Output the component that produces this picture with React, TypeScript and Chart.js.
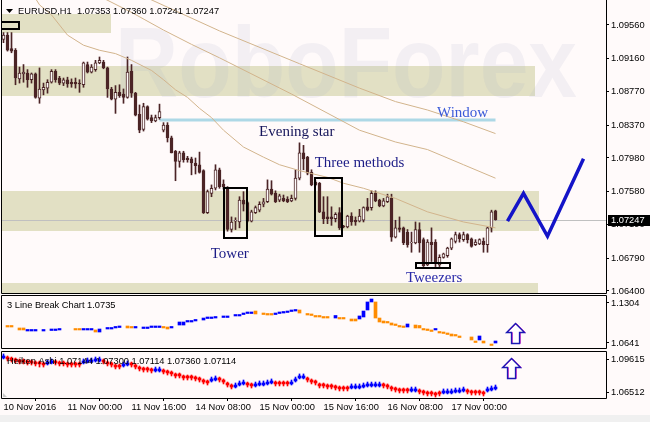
import React, { useEffect, useRef } from 'react';
import { Chart, registerables } from 'chart.js';
Chart.register(...registerables);

const BG = '#fffafa';
const CANDLE = '#4b2426';
const ZONE_COLOR = '#e2e0c4';
const SANS = '"Liberation Sans", Arial, sans-serif';
const SERIF = '"Liberation Serif", "Times New Roman", serif';
Chart.defaults.font.family = SANS;

const X_MIN = -0.375;
const X_MAX = 150.625;

// ---- time axis ----
const xTickIdx = [0, 16, 32, 48, 64, 80, 96, 112];
const xTickLabels = ['10 Nov 2016', '11 Nov 00:00', '11 Nov 16:00', '14 Nov 08:00', '15 Nov 00:00', '15 Nov 16:00', '16 Nov 08:00', '17 Nov 00:00'];

// ---- price axis ----
const priceTicks = [1.0956, 1.0916, 1.0877, 1.0837, 1.0798, 1.0758, 1.0719, 1.0679, 1.064];
const lbTicks = [1.1304, 1.0641];
const haTicks = [1.09615, 1.06512];
const lastPrice = 1.07247;
const headerText = 'EURUSD,H1  1.07353 1.07360 1.07241 1.07247';
const lbText = '3 Line Break Chart 1.0735';
const haText = 'Heiken Ashi 1.07144 1.07300 1.07114 1.07360 1.07114';

// ---- EURUSD H1 candles ----
const openP = [1.0939, 1.0944, 1.0928, 1.0926, 1.0892, 1.0898, 1.0899, 1.0891, 1.0898, 1.0869, 1.0879, 1.0881, 1.0888, 1.0901, 1.0893, 1.0887, 1.0891, 1.0888, 1.0888, 1.0887, 1.0885, 1.0909, 1.09, 1.0903, 1.0911, 1.0912, 1.0905, 1.088, 1.0868, 1.0876, 1.0874, 1.087, 1.0901, 1.0875, 1.085, 1.0832, 1.0859, 1.0846, 1.0842, 1.0846, 1.0831, 1.0837, 1.0822, 1.0806, 1.0794, 1.0804, 1.0798, 1.0797, 1.0792, 1.079, 1.0783, 1.0733, 1.0756, 1.0762, 1.0784, 1.0767, 1.0762, 1.0713, 1.0723, 1.0722, 1.0748, 1.0745, 1.0723, 1.0733, 1.0736, 1.0743, 1.0746, 1.0761, 1.0756, 1.0748, 1.075, 1.0749, 1.0747, 1.075, 1.0774, 1.0804, 1.0799, 1.0781, 1.0769, 1.0768, 1.0734, 1.0728, 1.0728, 1.0726, 1.0733, 1.0717, 1.0716, 1.0729, 1.0724, 1.0723, 1.0724, 1.074, 1.0739, 1.0756, 1.0748, 1.0741, 1.0746, 1.075, 1.0704, 1.0715, 1.0715, 1.071, 1.0697, 1.0697, 1.0713, 1.0701, 1.0671, 1.0698, 1.0698, 1.0671, 1.068, 1.0682, 1.0691, 1.0699, 1.0707, 1.0701, 1.0707, 1.0702, 1.0695, 1.0696, 1.0699, 1.0695, 1.0715, 1.07353];
const highP = [1.0947, 1.0947, 1.0947, 1.0928, 1.0906, 1.0909, 1.0903, 1.0899, 1.0899, 1.0905, 1.0887, 1.0891, 1.0903, 1.0903, 1.0895, 1.0893, 1.0894, 1.0892, 1.0893, 1.0891, 1.0912, 1.0912, 1.0909, 1.0914, 1.0918, 1.0914, 1.0906, 1.0882, 1.0884, 1.0885, 1.088, 1.0918, 1.0909, 1.0876, 1.0861, 1.0863, 1.086, 1.0849, 1.0849, 1.0862, 1.084, 1.084, 1.0824, 1.0807, 1.0806, 1.0806, 1.08, 1.0799, 1.0798, 1.0805, 1.0784, 1.076, 1.0766, 1.079, 1.0786, 1.0772, 1.0764, 1.0728, 1.0727, 1.0752, 1.0758, 1.0746, 1.0736, 1.0741, 1.0746, 1.075, 1.0772, 1.0771, 1.0759, 1.0755, 1.0754, 1.0752, 1.0754, 1.0784, 1.0816, 1.0813, 1.08, 1.0784, 1.0771, 1.0769, 1.0752, 1.0752, 1.074, 1.0733, 1.0739, 1.0718, 1.073, 1.0733, 1.0728, 1.0737, 1.074, 1.075, 1.0759, 1.0759, 1.0749, 1.075, 1.0755, 1.0755, 1.0724, 1.0728, 1.0716, 1.0713, 1.071, 1.0722, 1.0721, 1.0703, 1.0701, 1.0715, 1.0701, 1.0683, 1.0685, 1.0692, 1.0703, 1.071, 1.0709, 1.071, 1.0708, 1.0703, 1.0701, 1.0702, 1.0703, 1.0716, 1.0736, 1.0736];
const lowP = [1.0935, 1.0925, 1.0923, 1.0885, 1.0887, 1.0888, 1.0882, 1.0887, 1.0869, 1.0863, 1.0873, 1.0875, 1.0887, 1.0888, 1.0885, 1.0884, 1.0882, 1.0882, 1.0881, 1.0876, 1.0882, 1.0899, 1.0899, 1.0901, 1.091, 1.0904, 1.087, 1.0867, 1.0851, 1.087, 1.0863, 1.0869, 1.087, 1.0848, 1.0828, 1.083, 1.0843, 1.084, 1.0841, 1.0844, 1.0829, 1.0817, 1.0804, 1.0771, 1.0787, 1.0793, 1.0793, 1.0778, 1.0779, 1.078, 1.0732, 1.0732, 1.0752, 1.076, 1.0762, 1.0761, 1.0711, 1.071, 1.0713, 1.0715, 1.0735, 1.0722, 1.0722, 1.0732, 1.0734, 1.074, 1.0745, 1.0754, 1.0745, 1.0746, 1.0746, 1.0745, 1.0746, 1.0748, 1.0772, 1.0784, 1.0778, 1.0765, 1.0765, 1.0733, 1.072, 1.072, 1.0718, 1.0722, 1.0713, 1.0715, 1.0715, 1.0718, 1.0718, 1.0722, 1.0722, 1.0735, 1.0736, 1.0746, 1.074, 1.074, 1.0745, 1.0699, 1.0703, 1.071, 1.0695, 1.0692, 1.0686, 1.0696, 1.0686, 1.0669, 1.067, 1.0675, 1.0669, 1.0669, 1.0679, 1.068, 1.0689, 1.0697, 1.0698, 1.0699, 1.0697, 1.0692, 1.0694, 1.0695, 1.0686, 1.0686, 1.071, 1.07241];
const closeP = [1.0944, 1.0926, 1.0925, 1.0893, 1.0899, 1.09, 1.0891, 1.0898, 1.087, 1.088, 1.0882, 1.0888, 1.0901, 1.0891, 1.0887, 1.0891, 1.0886, 1.0886, 1.0886, 1.0886, 1.0911, 1.09, 1.0906, 1.0911, 1.0914, 1.0905, 1.088, 1.0868, 1.0876, 1.0872, 1.087, 1.09, 1.0875, 1.0849, 1.0831, 1.0859, 1.0844, 1.0842, 1.0846, 1.0853, 1.0837, 1.0822, 1.0804, 1.0794, 1.0804, 1.0796, 1.0796, 1.0792, 1.0789, 1.0781, 1.0733, 1.0758, 1.0762, 1.0784, 1.0764, 1.0764, 1.0713, 1.0722, 1.0724, 1.0748, 1.0743, 1.0723, 1.0734, 1.0739, 1.0743, 1.0746, 1.0761, 1.0755, 1.0746, 1.0753, 1.0747, 1.0746, 1.075, 1.0774, 1.0804, 1.0797, 1.078, 1.0766, 1.0766, 1.0734, 1.0726, 1.0726, 1.0726, 1.0731, 1.0715, 1.0716, 1.0729, 1.0722, 1.0722, 1.0729, 1.0739, 1.0736, 1.0756, 1.0747, 1.0741, 1.0747, 1.0752, 1.0704, 1.0715, 1.0713, 1.0697, 1.0695, 1.0698, 1.0713, 1.0697, 1.067, 1.0698, 1.0695, 1.0673, 1.068, 1.0684, 1.0691, 1.0702, 1.0707, 1.0702, 1.0707, 1.0701, 1.0693, 1.0698, 1.0701, 1.0695, 1.0715, 1.0734, 1.07247];

// ---- moving averages (read at sample bars) ----
const maFastX = [7, 9, 12, 16, 20, 24, 28, 32, 37, 40, 43, 46, 49, 52, 55, 60, 65, 69, 74, 81, 85, 90, 98, 106, 115, 123];
const maFastY = [1.0995, 1.098, 1.0968, 1.0944, 1.0932, 1.0926, 1.0922, 1.0914, 1.0902, 1.0891, 1.0879, 1.087, 1.0857, 1.0846, 1.0831, 1.0811, 1.0799, 1.079, 1.0783, 1.0775, 1.0768, 1.0762, 1.075, 1.0734, 1.0722, 1.0715];
const maMidX = [22, 32, 40, 47, 54, 72, 89, 98, 106, 115, 123];
const maMidY = [1.0995, 1.0971, 1.095, 1.0933, 1.0917, 1.0874, 1.0831, 1.0817, 1.0808, 1.079, 1.0774];
const maSlowX = [36, 54, 74, 89, 98, 106, 115, 123];
const maSlowY = [1.0988, 1.0949, 1.091, 1.0881, 1.0865, 1.0855, 1.0841, 1.0827];

// ---- window level & forecast ----
const windowX = [39, 123];
const windowLevel = 1.0843;
const forecastX = [126, 130, 136, 145];
const forecastY = [1.0723, 1.0756, 1.0705, 1.0797];

// ---- 3 Line Break ----
const lbX = [1, 2, 4, 5, 6, 7, 8, 10, 12, 13, 14, 18, 19, 20, 21, 22, 23, 24, 26, 27, 28, 29, 31, 32, 33, 35, 36, 37, 38, 39, 40, 41, 42, 44, 45, 46, 47, 48, 50, 51, 52, 53, 55, 56, 58, 59, 60, 61, 62, 63, 65, 66, 67, 68, 69, 70, 71, 72, 73, 74, 76, 77, 78, 79, 80, 81, 83, 84, 85, 87, 88, 89, 90, 91, 92, 93, 94, 95, 96, 97, 98, 99, 100, 101, 103, 104, 105, 106, 107, 108, 109, 110, 111, 112, 113, 114, 117, 118, 119, 120, 122, 123];
const lbHi = [1.0931, 1.0931, 1.089, 1.089, 1.0865, 1.0865, 1.0865, 1.0865, 1.0873, 1.0873, 1.0881, 1.0881, 1.0881, 1.0881, 1.0881, 1.0881, 1.0857, 1.0873, 1.0898, 1.0898, 1.0915, 1.0923, 1.0923, 1.0915, 1.0915, 1.0906, 1.0906, 1.0923, 1.0923, 1.0923, 1.0915, 1.0906, 1.0915, 1.0989, 1.0989, 1.1014, 1.1014, 1.1031, 1.1055, 1.1072, 1.1072, 1.108, 1.1089, 1.1089, 1.1113, 1.1113, 1.1138, 1.1155, 1.1155, 1.1171, 1.1138, 1.113, 1.113, 1.1138, 1.1155, 1.1163, 1.1171, 1.1188, 1.1196, 1.1188, 1.113, 1.1122, 1.1097, 1.1097, 1.108, 1.108, 1.1097, 1.1064, 1.1064, 1.1039, 1.1039, 1.1089, 1.1171, 1.1321, 1.137, 1.1321, 1.1055, 1.1006, 1.0998, 1.0973, 1.0956, 1.0931, 1.0923, 1.0956, 1.0939, 1.0931, 1.0881, 1.0873, 1.0857, 1.0881, 1.0832, 1.0823, 1.0807, 1.079, 1.0782, 1.0757, 1.0741, 1.0674, 1.0757, 1.0674, 1.0624, 1.0674];
const lbLo = [1.0906, 1.0906, 1.0857, 1.0857, 1.084, 1.084, 1.084, 1.084, 1.0848, 1.0848, 1.0857, 1.0857, 1.0857, 1.0857, 1.0857, 1.0857, 1.0823, 1.0823, 1.0873, 1.0873, 1.089, 1.0898, 1.089, 1.089, 1.089, 1.0881, 1.0881, 1.0898, 1.0898, 1.0898, 1.089, 1.0873, 1.089, 1.0939, 1.0939, 1.0989, 1.0989, 1.1006, 1.1022, 1.1047, 1.1047, 1.1055, 1.1064, 1.1064, 1.1089, 1.1089, 1.1113, 1.113, 1.113, 1.1122, 1.1113, 1.1105, 1.1105, 1.1113, 1.113, 1.1138, 1.1147, 1.1163, 1.1171, 1.1138, 1.1105, 1.1097, 1.1072, 1.1072, 1.1055, 1.1055, 1.1055, 1.1039, 1.1039, 1.1006, 1.1006, 1.1039, 1.1072, 1.1188, 1.1321, 1.1055, 1.0989, 1.0973, 1.0973, 1.0939, 1.0931, 1.0906, 1.0898, 1.0906, 1.089, 1.089, 1.0857, 1.0848, 1.0832, 1.0857, 1.0807, 1.0799, 1.0782, 1.0757, 1.0757, 1.0732, 1.0691, 1.0649, 1.0691, 1.0641, 1.06, 1.0641];
const lbUp = [0, 0, 0, 0, 1, 1, 1, 1, 1, 1, 1, 0, 0, 1, 1, 1, 0, 1, 1, 1, 1, 1, 0, 0, 1, 1, 1, 1, 1, 1, 0, 0, 1, 1, 1, 1, 1, 1, 1, 1, 1, 1, 1, 1, 1, 1, 1, 1, 1, 0, 0, 0, 0, 1, 1, 1, 1, 1, 1, 0, 0, 0, 0, 0, 0, 0, 1, 0, 0, 0, 0, 1, 1, 1, 1, 0, 0, 0, 0, 0, 0, 0, 0, 1, 0, 0, 0, 0, 0, 1, 0, 0, 0, 0, 0, 0, 0, 0, 1, 0, 0, 1];

// ---- Heiken Ashi ----
const haO = [1.0971, 1.098, 1.0971, 1.0962, 1.0952, 1.0952, 1.0943, 1.0943, 1.0933, 1.0933, 1.0924, 1.0915, 1.0924, 1.0943, 1.0933, 1.0933, 1.0924, 1.0924, 1.0924, 1.0924, 1.0924, 1.0933, 1.0933, 1.0943, 1.0943, 1.0952, 1.0933, 1.0924, 1.0905, 1.0905, 1.0896, 1.0905, 1.0924, 1.0905, 1.0886, 1.0877, 1.0877, 1.0868, 1.0849, 1.0849, 1.0858, 1.0849, 1.0839, 1.0821, 1.0821, 1.0802, 1.0802, 1.0802, 1.0792, 1.0783, 1.0764, 1.0755, 1.0755, 1.0764, 1.0783, 1.0764, 1.0736, 1.0717, 1.0698, 1.0717, 1.0727, 1.0736, 1.0727, 1.0708, 1.0717, 1.0717, 1.0727, 1.0736, 1.0745, 1.0745, 1.0745, 1.0745, 1.0727, 1.0755, 1.0783, 1.0783, 1.0783, 1.0764, 1.0755, 1.0727, 1.0727, 1.0717, 1.0717, 1.0708, 1.0698, 1.0698, 1.0698, 1.0689, 1.0689, 1.0689, 1.0698, 1.0708, 1.0708, 1.0708, 1.0708, 1.0727, 1.0717, 1.0698, 1.0689, 1.068, 1.068, 1.068, 1.0661, 1.0661, 1.067, 1.0661, 1.0651, 1.0651, 1.0642, 1.0651, 1.0642, 1.0642, 1.0642, 1.0651, 1.0651, 1.0661, 1.067, 1.0661, 1.0661, 1.0661, 1.0651, 1.0661, 1.067, 1.068];
const haC = [1.099, 1.0962, 1.0952, 1.0943, 1.0933, 1.0933, 1.0924, 1.0924, 1.0915, 1.0915, 1.0905, 1.0933, 1.0943, 1.0924, 1.0915, 1.0915, 1.0905, 1.0905, 1.0905, 1.0905, 1.0943, 1.0952, 1.0952, 1.0962, 1.0962, 1.0933, 1.0915, 1.0905, 1.0886, 1.0886, 1.0915, 1.0924, 1.0905, 1.0886, 1.0868, 1.0858, 1.0858, 1.0849, 1.0868, 1.0868, 1.0839, 1.083, 1.0821, 1.0802, 1.0802, 1.0783, 1.0783, 1.0783, 1.0774, 1.0764, 1.0745, 1.0736, 1.0774, 1.0783, 1.0764, 1.0745, 1.0717, 1.0698, 1.0717, 1.0736, 1.0745, 1.0717, 1.0708, 1.0727, 1.0736, 1.0736, 1.0745, 1.0755, 1.0727, 1.0727, 1.0727, 1.0727, 1.0745, 1.0774, 1.0802, 1.0802, 1.0764, 1.0745, 1.0736, 1.0708, 1.0708, 1.0698, 1.0698, 1.0689, 1.068, 1.068, 1.068, 1.0708, 1.0708, 1.0708, 1.0717, 1.0727, 1.0727, 1.0727, 1.0727, 1.0708, 1.0698, 1.068, 1.067, 1.0661, 1.0661, 1.0661, 1.068, 1.068, 1.0651, 1.0642, 1.0633, 1.0633, 1.0623, 1.0633, 1.0661, 1.0661, 1.0661, 1.067, 1.067, 1.068, 1.0651, 1.0642, 1.0642, 1.0642, 1.0633, 1.068, 1.0689, 1.0698];
const haH = [1.1009, 1.099, 1.098, 1.0971, 1.0962, 1.0962, 1.0952, 1.0952, 1.0943, 1.0943, 1.0933, 1.0952, 1.0962, 1.0952, 1.0943, 1.0943, 1.0933, 1.0933, 1.0933, 1.0933, 1.0962, 1.0971, 1.0971, 1.098, 1.098, 1.0962, 1.0943, 1.0933, 1.0915, 1.0915, 1.0933, 1.0943, 1.0933, 1.0915, 1.0896, 1.0886, 1.0886, 1.0877, 1.0886, 1.0886, 1.0868, 1.0858, 1.0849, 1.083, 1.083, 1.0811, 1.0811, 1.0811, 1.0802, 1.0792, 1.0774, 1.0764, 1.0792, 1.0802, 1.0792, 1.0774, 1.0745, 1.0727, 1.0736, 1.0755, 1.0764, 1.0745, 1.0736, 1.0745, 1.0755, 1.0755, 1.0764, 1.0774, 1.0755, 1.0755, 1.0755, 1.0755, 1.0764, 1.0792, 1.0821, 1.0821, 1.0792, 1.0774, 1.0764, 1.0736, 1.0736, 1.0727, 1.0727, 1.0717, 1.0708, 1.0708, 1.0708, 1.0727, 1.0727, 1.0727, 1.0736, 1.0745, 1.0745, 1.0745, 1.0745, 1.0736, 1.0727, 1.0708, 1.0698, 1.0689, 1.0689, 1.0689, 1.0698, 1.0698, 1.068, 1.067, 1.0661, 1.0661, 1.0651, 1.0661, 1.068, 1.068, 1.068, 1.0689, 1.0689, 1.0698, 1.068, 1.067, 1.067, 1.067, 1.0661, 1.0698, 1.0708, 1.0717];
const haL = [1.0962, 1.0943, 1.0933, 1.0924, 1.0915, 1.0915, 1.0905, 1.0905, 1.0896, 1.0886, 1.0886, 1.0905, 1.0915, 1.0905, 1.0896, 1.0896, 1.0886, 1.0886, 1.0886, 1.0886, 1.0915, 1.0924, 1.0924, 1.0933, 1.0933, 1.0915, 1.0896, 1.0886, 1.0868, 1.0868, 1.0886, 1.0896, 1.0886, 1.0868, 1.0849, 1.0839, 1.0839, 1.083, 1.0839, 1.0839, 1.0821, 1.0811, 1.0802, 1.0783, 1.0783, 1.0764, 1.0764, 1.0764, 1.0755, 1.0745, 1.0727, 1.0717, 1.0745, 1.0755, 1.0745, 1.0727, 1.0698, 1.068, 1.0689, 1.0708, 1.0717, 1.0698, 1.0689, 1.0698, 1.0708, 1.0708, 1.0717, 1.0727, 1.0708, 1.0708, 1.0708, 1.0708, 1.0717, 1.0745, 1.0774, 1.0774, 1.0745, 1.0727, 1.0717, 1.0689, 1.0689, 1.068, 1.068, 1.067, 1.0661, 1.0661, 1.0661, 1.068, 1.068, 1.068, 1.0689, 1.0698, 1.0698, 1.0698, 1.0698, 1.0689, 1.068, 1.0661, 1.0651, 1.0642, 1.0642, 1.0642, 1.0651, 1.0651, 1.0633, 1.0623, 1.0614, 1.0614, 1.0604, 1.0614, 1.0633, 1.0633, 1.0633, 1.0642, 1.0642, 1.0651, 1.0633, 1.0623, 1.0623, 1.0623, 1.0614, 1.0651, 1.0661, 1.067];

// ---- drawn objects (in data units) ----
const zones = [
  { from: -2, to: 26.9, hi: 1.0969, lo: 1.0946 },
  { from: -2, to: 132.9, hi: 1.0907, lo: 1.0872 },
  { from: -2, to: 133.9, hi: 1.0759, lo: 1.0711 },
  { from: -2, to: 133.6, hi: 1.065, lo: 1.06 },
];
const boxes = [
  { from: -1.5, to: 4.1, hi: 1.0961, lo: 1.095 },
  { from: 54.8, to: 61.0, hi: 1.0764, lo: 1.0702 },
  { from: 77.7, to: 84.9, hi: 1.0775, lo: 1.0704 },
  { from: 102.9, to: 111.9, hi: 1.0675, lo: 1.0666 },
];
const notes = [
  { text: 'Evening star', x: 63.9, y: 1.0829, color: '#14145a' },
  { text: 'Three methods', x: 77.8, y: 1.0792, color: '#1c1c86' },
  { text: 'Tower', x: 51.8, y: 1.0684, color: '#1c1c86' },
  { text: 'Tweezers', x: 100.6, y: 1.0655, color: '#2a2aa8' },
  { text: 'Window', x: 108.4, y: 1.0851, color: '#3a5ad8' },
];
const lbArrow = { x: 127.9, top: 1.0973, bottom: 1.0641 };
const haArrow = { x: 126.9, top: 1.0971, bottom: 1.0783 };

const idx = openP.map((_, i) => i);

function pts(xs: number[], ys: number[]) {
  return xs.map((x, k) => ({ x, y: ys[k] }));
}

function noPad(s: any) {
  s.paddingTop = 0;
  s.paddingBottom = 0;
  s.paddingLeft = 0;
  s.paddingRight = 0;
}

function yAxis(min: number, max: number, ticks: number[], digits: number) {
  return {
    type: 'linear',
    position: 'right',
    min,
    max,
    afterFit: (s: any) => { s.width = 44; noPad(s); },
    afterBuildTicks: (s: any) => { s.ticks = ticks.map((v) => ({ value: v })); },
    ticks: { callback: (v: any) => Number(v).toFixed(digits), font: { family: SANS, size: 9.3 }, color: '#000', padding: 2, autoSkip: false },
    grid: { drawOnChartArea: false, tickLength: 3, color: '#000', lineWidth: 1 },
    border: { display: false },
  };
}

function hiddenX() {
  return { type: 'linear', min: X_MIN, max: X_MAX, display: false, offset: false };
}

function frame(chart: any, sides: { top?: boolean }) {
  const { ctx, chartArea: a } = chart;
  ctx.save();
  ctx.strokeStyle = '#000';
  ctx.lineWidth = 1;
  ctx.beginPath();
  const l = a.left - 0.5, r = a.right + 0.5, t = a.top - 0.5, b = a.bottom + 0.5;
  ctx.moveTo(l, sides.top ? t : 0);
  ctx.lineTo(l, b);
  ctx.lineTo(r, b);
  ctx.lineTo(r, sides.top ? t : 0);
  if (sides.top) ctx.lineTo(l, t);
  ctx.stroke();
  ctx.restore();
}

function drawArrow(chart: any, ar: { x: number; top: number; bottom: number }) {
  const { ctx } = chart;
  const cx = Math.round(chart.scales.x.getPixelForValue(ar.x)) + 0.5;
  const t = Math.round(chart.scales.y.getPixelForValue(ar.top)) + 0.5;
  const b = Math.round(chart.scales.y.getPixelForValue(ar.bottom)) + 0.5;
  const path = (dx: number) => {
    ctx.beginPath();
    ctx.moveTo(cx + dx, t);
    ctx.lineTo(cx + dx + 9, t + 9);
    ctx.lineTo(cx + dx + 4, t + 9);
    ctx.lineTo(cx + dx + 4, b);
    ctx.lineTo(cx + dx - 4, b);
    ctx.lineTo(cx + dx - 4, t + 9);
    ctx.lineTo(cx + dx - 9, t + 9);
    ctx.closePath();
  };
  ctx.save();
  path(0);
  ctx.fillStyle = '#ffffff';
  ctx.fill();
  ctx.lineWidth = 1;
  ctx.strokeStyle = '#d050d0';
  path(1);
  ctx.stroke();
  ctx.strokeStyle = '#1a1ab4';
  ctx.lineWidth = 1.3;
  path(0);
  ctx.stroke();
  ctx.restore();
}

const mainDecor = {
  id: 'mainDecor',
  beforeDatasetsDraw(chart: any) {
    const { ctx, chartArea: a } = chart;
    const xs = chart.scales.x, ys = chart.scales.y;
    ctx.save();
    ctx.beginPath();
    ctx.rect(a.left, a.top, a.right - a.left, a.bottom - a.top);
    ctx.clip();
    ctx.fillStyle = ZONE_COLOR;
    for (const z of zones) {
      const x1 = Math.max(a.left, xs.getPixelForValue(z.from));
      const x2 = Math.round(xs.getPixelForValue(z.to));
      const y1 = Math.round(ys.getPixelForValue(z.hi));
      const y2 = Math.round(ys.getPixelForValue(z.lo));
      ctx.fillRect(x1, y1, x2 - x1, y2 - y1);
    }
    // watermark
    ctx.font = 'bold 100px ' + SANS;
    const w = ctx.measureText('RoboForex').width;
    ctx.translate(115, 97);
    ctx.scale(462 / w, 1);
    ctx.fillStyle = 'rgba(160,170,200,0.13)';
    ctx.textBaseline = 'alphabetic';
    ctx.fillText('RoboForex', 0, 0);
    ctx.restore();
    // bid line
    ctx.save();
    const yp = Math.round(ys.getPixelForValue(lastPrice)) + 0.5;
    ctx.strokeStyle = '#c0c0c0';
    ctx.lineWidth = 1;
    ctx.beginPath();
    ctx.moveTo(a.left, yp);
    ctx.lineTo(a.right, yp);
    ctx.stroke();
    ctx.restore();
  },
  afterDatasetsDraw(chart: any) {
    const { ctx, chartArea: a } = chart;
    const xs = chart.scales.x, ys = chart.scales.y;
    ctx.save();
    ctx.beginPath();
    ctx.rect(a.left, a.top, a.right - a.left, a.bottom - a.top);
    ctx.clip();
    ctx.strokeStyle = '#000';
    ctx.lineWidth = 2;
    for (const bx of boxes) {
      const x1 = Math.round(xs.getPixelForValue(bx.from));
      const x2 = Math.round(xs.getPixelForValue(bx.to));
      const y1 = Math.round(ys.getPixelForValue(bx.hi));
      const y2 = Math.round(ys.getPixelForValue(bx.lo));
      ctx.strokeRect(x1 + 1, y1 + 1, x2 - x1 - 2, y2 - y1 - 2);
    }
    ctx.font = '15px ' + SERIF;
    ctx.textBaseline = 'middle';
    ctx.textAlign = 'left';
    for (const n of notes) {
      ctx.fillStyle = n.color;
      ctx.fillText(n.text, xs.getPixelForValue(n.x), ys.getPixelForValue(n.y));
    }
    ctx.restore();
  },
  afterDraw(chart: any) {
    const { ctx, chartArea: a } = chart;
    const ys = chart.scales.y;
    ctx.save();
    ctx.fillStyle = '#000';
    ctx.beginPath();
    ctx.moveTo(6, 9);
    ctx.lineTo(13, 9);
    ctx.lineTo(9.5, 13);
    ctx.closePath();
    ctx.fill();
    ctx.font = '9.3px ' + SANS;
    ctx.textBaseline = 'middle';
    ctx.fillText(headerText, 18, 11.5);
    const yp = Math.round(ys.getPixelForValue(lastPrice));
    ctx.fillStyle = '#000';
    ctx.fillRect(a.right + 2, yp - 5, 44, 11);
    ctx.fillStyle = '#fff';
    ctx.fillText(lastPrice.toFixed(5), a.right + 5, yp + 0.5);
    ctx.restore();
    frame(chart, {});
  },
};

const lbDecor = {
  id: 'lbDecor',
  afterDraw(chart: any) {
    const { ctx, chartArea: a } = chart;
    frame(chart, { top: true });
    ctx.save();
    ctx.fillStyle = '#000';
    ctx.font = '9.3px ' + SANS;
    ctx.textBaseline = 'middle';
    ctx.fillText(lbText, a.left + 5, a.top + 9);
    ctx.restore();
    drawArrow(chart, lbArrow);
  },
};

const haDecor = {
  id: 'haDecor',
  afterDraw(chart: any) {
    const { ctx, chartArea: a } = chart;
    frame(chart, { top: true });
    ctx.save();
    ctx.fillStyle = '#000';
    ctx.font = '9.3px ' + SANS;
    ctx.textBaseline = 'middle';
    ctx.fillText(haText, a.left + 5, a.top + 9);
    ctx.fillStyle = '#c8c8c8';
    ctx.beginPath();
    ctx.moveTo(a.left + 1, a.bottom - 1);
    ctx.lineTo(a.left + 5, a.bottom - 1);
    ctx.lineTo(a.left + 1, a.bottom - 5);
    ctx.closePath();
    ctx.fill();
    ctx.restore();
    drawArrow(chart, haArrow);
  },
};

const common = {
  responsive: false,
  animation: false,
  devicePixelRatio: 1,
  events: [],
  plugins: { legend: { display: false }, tooltip: { enabled: false } },
};

function mainConfig(): any {
  const line = (data: any, color: string, width: number, order: number) => ({
    type: 'line', data, borderColor: color, borderWidth: width, pointRadius: 0, tension: 0, order, fill: false,
  });
  return {
    type: 'bar',
    data: {
      datasets: [
        line(pts(windowX, windowX.map(() => windowLevel)), '#add8e6', 3, 12),
        { type: 'bar', data: idx.map((i) => ({ x: i, y: [lowP[i], highP[i]] })), backgroundColor: CANDLE, barThickness: 1, grouped: false, order: 10 },
        {
          type: 'bar', data: idx.map((i) => ({ x: i, y: [openP[i], closeP[i]] })),
          backgroundColor: idx.map((i) => (closeP[i] >= openP[i] ? BG : CANDLE)),
          borderColor: CANDLE, borderWidth: 1, borderSkipped: false, barThickness: 3, grouped: false, order: 9,
        },
        line(pts(maFastX, maFastY), '#d2b48c', 1, 3),
        line(pts(maMidX, maMidY), '#d2b48c', 1, 3),
        line(pts(maSlowX, maSlowY), '#d2b48c', 1, 3),
        line(pts(forecastX, forecastY), '#1414c8', 3.5, 1),
      ],
    },
    options: {
      ...common,
      layout: { autoPadding: false, padding: { left: 2, right: 0, top: 0, bottom: 1 } },
      scales: { x: hiddenX(), y: yAxis(1.06376, 1.09857, priceTicks, 5) },
    },
    plugins: [mainDecor],
  };
}

function lbConfig(): any {
  return {
    type: 'bar',
    data: {
      datasets: [
        {
          data: lbX.map((x, k) => ({ x, y: [lbLo[k], lbHi[k]] })),
          backgroundColor: lbUp.map((u) => (u ? '#0000ff' : '#ff8c00')),
          barThickness: 3, grouped: false,
        },
      ],
    },
    options: {
      ...common,
      layout: { autoPadding: false, padding: { left: 2, right: 0, top: 1, bottom: 2 } },
      scales: { x: hiddenX(), y: yAxis(1.05581, 1.142, lbTicks, 4) },
    },
    plugins: [lbDecor],
  };
}

function haConfig(): any {
  const col = idx.map((i) => (haC[i] >= haO[i] ? '#0000ff' : '#ff0000'));
  return {
    type: 'bar',
    data: {
      datasets: [
        { data: idx.map((i) => ({ x: i, y: [haL[i], haH[i]] })), backgroundColor: col, barThickness: 1, grouped: false, order: 2 },
        { data: idx.map((i) => ({ x: i, y: [haO[i], haC[i]] })), backgroundColor: col, barThickness: 3, grouped: false, order: 1 },
      ],
    },
    options: {
      ...common,
      layout: { autoPadding: false, padding: { left: 2, right: 0, top: 2, bottom: 0 } },
      scales: {
        x: {
          type: 'linear', min: X_MIN, max: X_MAX, offset: false,
          afterFit: (s: any) => { s.height = 24; noPad(s); },
          afterBuildTicks: (s: any) => { s.ticks = xTickIdx.map((v) => ({ value: v })); },
          ticks: { callback: (_v: any, i: number) => xTickLabels[i], align: 'start', maxRotation: 0, minRotation: 0, autoSkip: false, padding: 1, font: { family: SANS, size: 9.3 }, color: '#000' },
          grid: { drawOnChartArea: false, tickLength: 3, color: '#000' },
          border: { display: false },
        },
        y: yAxis(1.05949, 1.10273, haTicks, 5),
      },
    },
    plugins: [haDecor],
  };
}

export default function App() {
  const r1 = useRef<HTMLCanvasElement>(null);
  const r2 = useRef<HTMLCanvasElement>(null);
  const r3 = useRef<HTMLCanvasElement>(null);
  useEffect(() => {
    const c1 = new Chart(r1.current as HTMLCanvasElement, mainConfig());
    const c2 = new Chart(r2.current as HTMLCanvasElement, lbConfig());
    const c3 = new Chart(r3.current as HTMLCanvasElement, haConfig());
    return () => { c1.destroy(); c2.destroy(); c3.destroy(); };
  }, []);
  const abs = (top: number): React.CSSProperties => ({ position: 'absolute', left: 0, top, display: 'block' });
  return (
    <div style={{ position: 'absolute', left: 0, top: 0, width: 650, height: 422, background: BG, overflow: 'hidden' }}>
      <canvas ref={r1} width={650} height={294} style={abs(0)} />
      <canvas ref={r2} width={650} height={55} style={abs(295)} />
      <canvas ref={r3} width={650} height={72} style={abs(350)} />
      <div style={{ position: 'absolute', left: 0, top: 415, width: 650, height: 7, background: '#f0f0f0' }} />
    </div>
  );
}
